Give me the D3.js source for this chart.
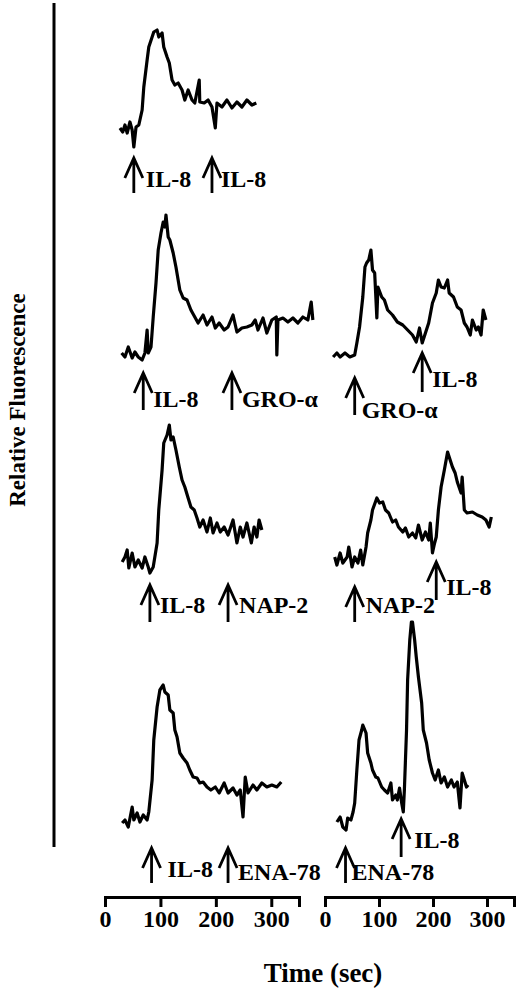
<!DOCTYPE html>
<html>
<head>
<meta charset="utf-8">
<script src="https://cdn.jsdelivr.net/npm/d3@7"></script>
<style>
  body { margin: 0; background: #fff; }
  svg { display: block; }
</style>
</head>
<body>
<svg id="chart" width="520" height="998"></svg>
<script>
// calcium traces: time (sec) and relative fluorescence (a.u., 0 = resting level)
const il8Il8Time = [27, 32, 36, 40, 45, 49, 52, 56, 61, 67, 70, 76, 79, 85, 88, 94, 97, 103, 106, 112, 116, 121, 126, 132, 139, 144, 150, 157, 162, 170, 171, 179, 186, 193, 199, 202, 211, 220, 229, 238, 247, 256, 265, 273];
const il8Il8Signal = [2, -2, 5, -3, 8, 0, -17, 3, 5, 20, 43, 70, 83, 93, 98, 100, 93, 97, 83, 73, 67, 50, 45, 47, 40, 30, 40, 30, 27, 50, 28, 27, 30, 23, 2, 27, 23, 30, 22, 28, 23, 30, 25, 27];
const il8Il8Doses = [52, 193];
const il8Il8Agents = ["IL-8", "IL-8"];

const il8GroTime = [30, 36, 42, 49, 54, 60, 67, 72, 76, 78, 83, 87, 92, 96, 101, 105, 108, 110, 114, 117, 123, 128, 135, 141, 148, 155, 162, 168, 177, 184, 193, 199, 206, 215, 222, 231, 238, 247, 256, 265, 271, 276, 285, 292, 301, 309, 310, 312, 321, 330, 339, 348, 357, 366, 372, 375];
const il8GroSignal = [2, -2, 8, -3, 3, -2, -5, 2, 25, 2, 8, 38, 72, 105, 122, 133, 128, 140, 118, 115, 102, 88, 65, 57, 55, 45, 38, 32, 40, 30, 38, 27, 32, 25, 28, 40, 23, 27, 28, 30, 35, 25, 37, 22, 35, 38, 0, 35, 37, 33, 37, 32, 38, 35, 53, 35];
const il8GroDoses = [69, 229];
const il8GroAgents = ["IL-8", "GRO-α"];

const groIl8Time = [15, 22, 28, 37, 46, 55, 59, 64, 70, 74, 77, 81, 85, 88, 92, 96, 98, 105, 110, 116, 125, 134, 144, 153, 162, 169, 175, 180, 186, 192, 199, 206, 210, 215, 221, 227, 230, 238, 245, 252, 258, 263, 269, 273, 280, 284, 289, 293, 298];
const groIl8Signal = [-2, 2, -2, 2, -2, 0, 12, 28, 58, 88, 92, 95, 105, 85, 82, 37, 68, 58, 55, 45, 40, 33, 30, 25, 20, 13, 27, 12, 22, 32, 52, 62, 75, 68, 67, 75, 62, 58, 48, 45, 32, 28, 20, 35, 25, 28, 20, 45, 35];
const groIl8Doses = [55, 180];
const groIl8Agents = ["GRO-α", "IL-8"];

const il8NapTime = [31, 36, 40, 43, 49, 54, 60, 67, 72, 78, 81, 87, 94, 97, 103, 106, 112, 116, 119, 123, 128, 134, 139, 144, 150, 155, 161, 166, 171, 177, 184, 190, 195, 202, 208, 215, 222, 231, 238, 244, 249, 256, 264, 269, 274, 278, 283];
const il8NapSignal = [1, 6, 13, -5, 10, -4, 3, -5, 6, -4, -10, -4, 20, 53, 93, 120, 128, 138, 123, 126, 113, 96, 83, 76, 65, 56, 53, 45, 36, 43, 31, 45, 30, 40, 31, 36, 28, 43, 20, 36, 26, 40, 20, 36, 26, 43, 33];
const il8NapDoses = [81, 222];
const il8NapAgents = ["IL-8", "NAP-2"];

const napIl8Time = [18, 22, 28, 33, 41, 44, 50, 55, 61, 66, 70, 76, 79, 85, 88, 96, 101, 107, 112, 118, 125, 131, 136, 144, 149, 155, 162, 168, 173, 180, 186, 192, 195, 199, 203, 206, 210, 215, 221, 227, 230, 236, 241, 245, 252, 254, 258, 263, 273, 282, 291, 298, 304, 308];
const napIl8Signal = [6, -2, 10, 0, 6, 16, -4, 6, 0, 13, -2, 16, 30, 43, 53, 65, 60, 61, 53, 50, 41, 43, 36, 31, 35, 26, 30, 25, 38, 23, 31, 23, 40, 10, 20, 26, 53, 76, 93, 111, 106, 96, 90, 81, 70, 86, 53, 50, 51, 48, 46, 43, 36, 46];
const napIl8Doses = [55, 206];
const napIl8Agents = ["NAP-2", "IL-8"];

const il8EnaTime = [31, 36, 42, 49, 52, 58, 63, 69, 76, 79, 85, 88, 94, 99, 105, 108, 114, 117, 123, 126, 130, 135, 141, 148, 153, 159, 166, 171, 177, 184, 191, 199, 206, 215, 222, 231, 238, 244, 249, 253, 258, 267, 274, 283, 292, 301, 310, 318];
const il8EnaSignal = [-3, 0, -7, 13, 0, 7, -2, 5, 0, 8, 40, 80, 113, 130, 135, 128, 125, 110, 107, 90, 83, 67, 62, 57, 50, 43, 42, 37, 38, 33, 30, 33, 27, 37, 27, 32, 25, 30, 3, 43, 27, 35, 30, 37, 33, 35, 33, 38];
const il8EnaDoses = [84, 222];
const il8EnaAgents = ["IL-8", "ENA-78"];

const enaIl8Time = [22, 28, 33, 39, 42, 48, 52, 55, 59, 63, 68, 70, 76, 79, 85, 88, 94, 98, 105, 110, 116, 122, 125, 131, 134, 138, 142, 145, 147, 151, 153, 157, 160, 162, 166, 169, 173, 179, 182, 188, 193, 199, 204, 210, 215, 221, 227, 234, 239, 245, 250, 254, 262, 265];
const enaIl8Signal = [-2, 3, -7, -10, 2, 0, 8, 17, 50, 80, 90, 95, 87, 67, 57, 50, 43, 42, 33, 30, 27, 37, 20, 25, 20, 32, 17, 8, 30, 90, 140, 180, 198, 198, 180, 163, 143, 117, 90, 77, 60, 47, 40, 50, 37, 43, 33, 40, 33, 38, 12, 47, 33, 35];
const enaIl8Doses = [38, 141];
const enaIl8Agents = ["ENA-78", "IL-8"];

const timeTicks = [0, 100, 200, 300];

const font = "'Liberation Serif', 'Times New Roman', serif";
const svg = d3.select("#chart");

const xLeft = d3.scaleLinear().domain([0, 350]).range([105, 299]);
const xRight = d3.scaleLinear().domain([0, 350]).range([325, 514]);

// layout: row baseline, and per arrow [tipY, endY, labelDx, labelY]
const panels = [
  { x: xLeft, base: 130, time: il8Il8Time, signal: il8Il8Signal, doses: il8Il8Doses, agents: il8Il8Agents,
    arrows: [[158, 193, 12, 187], [158, 193, 9, 187]] },
  { x: xLeft, base: 355, time: il8GroTime, signal: il8GroSignal, doses: il8GroDoses, agents: il8GroAgents,
    arrows: [[373, 410, 10, 407], [373, 410, 10, 407]] },
  { x: xRight, base: 355, time: groIl8Time, signal: groIl8Signal, doses: groIl8Doses, agents: groIl8Agents,
    arrows: [[378, 415, 7, 418], [353, 392, 10, 387]] },
  { x: xLeft, base: 563, time: il8NapTime, signal: il8NapSignal, doses: il8NapDoses, agents: il8NapAgents,
    arrows: [[585, 622, 10, 613], [585, 622, 11, 613]] },
  { x: xRight, base: 563, time: napIl8Time, signal: napIl8Signal, doses: napIl8Doses, agents: napIl8Agents,
    arrows: [[587, 622, 11, 613], [562, 600, 10, 595]] },
  { x: xLeft, base: 820, time: il8EnaTime, signal: il8EnaSignal, doses: il8EnaDoses, agents: il8EnaAgents,
    arrows: [[848, 883, 16, 877], [848, 883, 10, 880]] },
  { x: xRight, base: 820, time: enaIl8Time, signal: enaIl8Signal, doses: enaIl8Doses, agents: enaIl8Agents,
    arrows: [[848, 883, 6, 880], [819, 857, 13, 848]] },
];

panels.forEach((panel) => {
  const y = d3.scaleLinear().domain([0, 100]).range([panel.base, panel.base - 100]);
  const line = d3
    .line()
    .x((value, i) => panel.x(panel.time[i]))
    .y((value) => y(value));

  svg
    .append("path")
    .datum(panel.signal)
    .attr("fill", "none")
    .attr("stroke", "#000")
    .attr("stroke-width", 3.2)
    .attr("stroke-linejoin", "round")
    .attr("d", line);

  panel.doses.forEach((dose, i) => {
    const [tip, end, dx, labelY] = panel.arrows[i];
    const ax = panel.x(dose);
    svg
      .append("path")
      .attr("fill", "none")
      .attr("stroke", "#000")
      .attr("stroke-width", 2.8)
      .attr("d", `M${ax},${tip}V${end}M${ax - 9},${tip + 20}L${ax},${tip}L${ax + 9},${tip + 20}`);
    svg
      .append("text")
      .attr("x", ax + dx)
      .attr("y", labelY)
      .attr("font-family", font)
      .attr("font-weight", "bold")
      .attr("font-size", 24)
      .attr("fill", "#000")
      .text(panel.agents[i]);
  });
});

// time axes
[xLeft, xRight].forEach((x) => {
  const axis = svg
    .append("g")
    .attr("transform", "translate(0,897)")
    .call(d3.axisBottom(x).tickValues(timeTicks).tickSize(10).tickSizeOuter(10).tickPadding(3));
  axis.select(".domain").attr("stroke-width", 3);
  axis.selectAll(".tick line").attr("stroke-width", 3);
  axis
    .selectAll(".tick text")
    .attr("font-family", font)
    .attr("font-weight", "bold")
    .attr("font-size", 24)
    .attr("fill", "#000");
});

// fluorescence axis line
svg
  .append("line")
  .attr("x1", 54)
  .attr("x2", 54)
  .attr("y1", 3)
  .attr("y2", 847)
  .attr("stroke", "#000")
  .attr("stroke-width", 3);

svg
  .append("text")
  .attr("transform", "translate(25,400) rotate(-90)")
  .attr("text-anchor", "middle")
  .attr("font-family", font)
  .attr("font-weight", "bold")
  .attr("font-size", 23)
  .attr("fill", "#000")
  .text("Relative Fluorescence");

svg
  .append("text")
  .attr("x", 323)
  .attr("y", 982)
  .attr("text-anchor", "middle")
  .attr("font-family", font)
  .attr("font-weight", "bold")
  .attr("font-size", 27)
  .attr("fill", "#000")
  .text("Time (sec)");
</script>
</body>
</html>
